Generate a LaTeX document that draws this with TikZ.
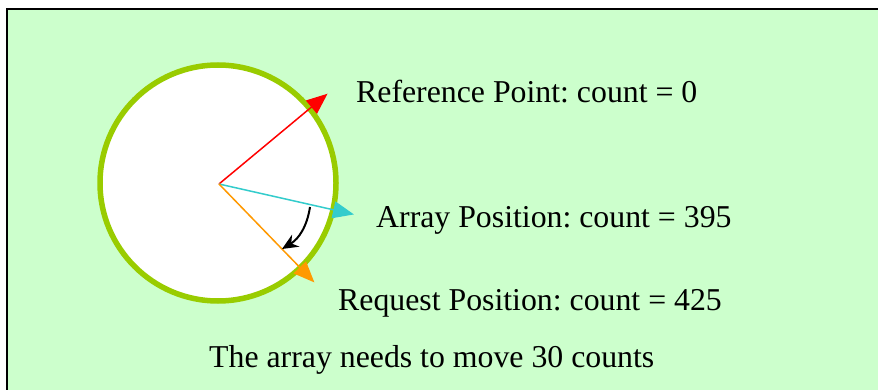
\documentclass[tikz,border=0pt]{standalone}
\usepackage{fontspec}
\setmainfont{Liberation Serif}
\usetikzlibrary{arrows.meta}
\definecolor{bgreen}{HTML}{CCFFCC}
\definecolor{ringgreen}{HTML}{99CC00}
\definecolor{cyanc}{HTML}{33CCCC}
\definecolor{orangec}{HTML}{FF9900}
\tikzset{
  lbl/.style={anchor=base west, inner sep=0pt, font=\fontsize{31.8}{36}\selectfont},
  pointer/.style={line width=1.5pt, -{Triangle[length=21pt,width=17pt]}, shorten >=-2pt},
}
\frenchspacing
\begin{document}
\begin{tikzpicture}[x=1pt,y=-1pt]
\useasboundingbox (0,0) rectangle (878,390);
\fill[white] (0,0) rectangle (878,390);
\fill[bgreen] (7,9.5) rectangle (880,392);
\draw[line width=2pt] (7,392) -- (7,9.5) -- (880,9.5);
\node[circle, draw=ringgreen, fill=white, line width=5.5pt, minimum size=236pt, inner sep=0pt] (disk) at (218,183) {};
\coordinate (c) at (219,184);
\coordinate (ref) at (326,95);
\coordinate (arr) at (352,214);
\coordinate (req) at (313,281);
\draw[pointer, red] (c) -- (ref);
\draw[pointer, cyanc] (c) -- (arr);
\draw[pointer, orangec] (c) -- (req);
\coordinate (m1) at (310,207);
\coordinate (m2) at (282,249);
\draw[line width=2pt, -{Stealth[length=16pt,width=14pt]}] (m1) to[bend left=25] (m2);
\node[lbl] (tref) at (356,103) {Reference Point: count = 0};
\node[lbl] (tarr) at (376,228) {Array Position: count = 395};
\node[lbl] (treq) at (338,310) {Request Position: count = 425};
\node[lbl] (tmove) at (209,367) {The array needs to move 30 counts};
\end{tikzpicture}
\end{document}
